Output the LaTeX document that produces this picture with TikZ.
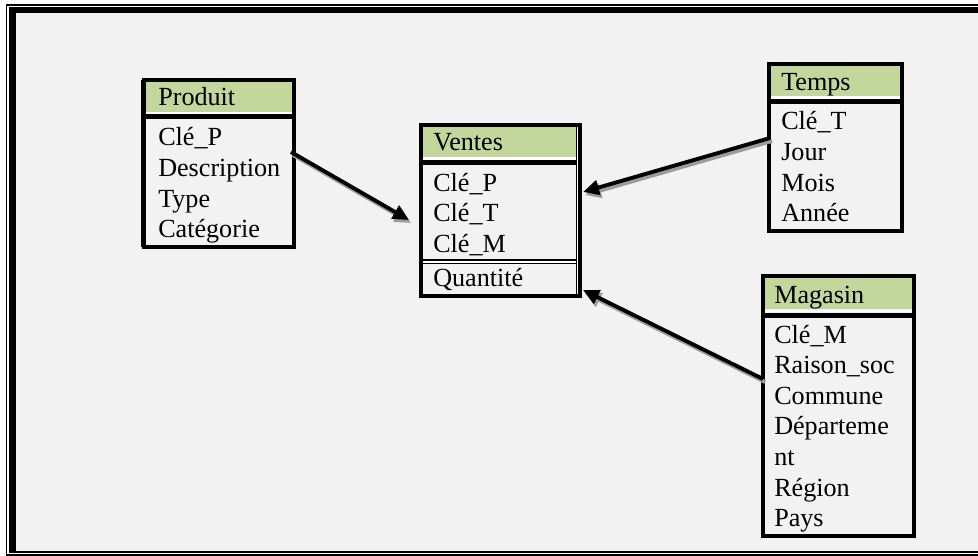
\documentclass[tikz,border=0pt]{standalone}
\usepackage{fontspec}
\setmainfont{Liberation Serif}
\usetikzlibrary{calc,arrows.meta}
\definecolor{paper}{HTML}{F2F2F2}
\definecolor{hdrgreen}{HTML}{C3D69B}
\definecolor{shadowgrey}{HTML}{9C9C9C}
\tikzset{
  tablebox/.style={anchor=north west, fill=paper, inner sep=0pt, outer sep=0pt},
  headbox/.style={anchor=north west, fill=hdrgreen, inner sep=0pt, outer sep=0pt},
  celltext/.style={anchor=base west, inner sep=0pt, font=\fontsize{19.6pt}{23pt}\selectfont},
  tableborder/.style={draw=black, line width=2.8pt},
  headrule/.style={draw=black, line width=3.75pt},
  gaprule/.style={draw=white, line width=1.9pt},
  link/.style={line width=2.9pt, -{Triangle[length=12pt,width=11pt]}},
  linkshadow/.style={link, draw=shadowgrey, fill=shadowgrey},
}

\begin{document}
\begin{tikzpicture}[x=0.75pt,y=-0.75pt]
\useasboundingbox (0,0) rectangle (978,556);
\clip (0,0) rectangle (978,556);

% page frame: thin outer rule, thick inner rule
\fill[white] (0,0) rectangle (978,556);
\fill[paper] (15.5,13) rectangle (978,550.5);
\draw[line width=1.1pt] (6.5,556) -- (6.5,5) -- (978,5);
\draw[line width=4.9pt] (12.5,551) -- (12.5,10) -- (978,10);
\draw[line width=1.5pt] (9,552) -- (978,552);
\draw[line width=1.1pt] (6,555) -- (978,555);

% ---- Produit ----
\node[tablebox, minimum width=112.5pt, minimum height=125.25pt] (prod) at (144,80) {};
\node[headbox, minimum width=112.5pt, minimum height=24pt] (prodH) at (prod.north west) {};
\draw[gaprule] ($(prod.north west)+(0,33.3)$) -- ($(prod.north east)+(0,33.3)$);
\draw[headrule] ($(prod.north west)+(0,37)$) -- ($(prod.north east)+(0,37)$);
\draw[white, line width=0.75pt] ($(prod.north west)+(-1,0)$) -- ($(prod.south west)+(-1,0)$);
\draw[line width=0.9pt] ($(prod.north west)+(-2,0)$) -- ($(prod.south west)+(-2,0)$);
\draw[tableborder] (prod.north west) rectangle (prod.south east);
\node[celltext] (prodT) at ($(prod.north west)+(14,26)$) {Produit};
\foreach \txt [count=\i from 0] in {Clé\_P,Description,Type,Catégorie}
  \node[celltext] (prod\i) at ($(prod.north west)+(14,66+30.6*\i)$) {\txt};

% ---- Ventes ----
\node[tablebox, minimum width=119.25pt, minimum height=128.25pt] (vent) at (421,125) {};
\node[headbox, minimum width=119.25pt, minimum height=24pt] (ventH) at (vent.north west) {};
\draw[gaprule] ($(vent.north west)+(0,33.5)$) -- ($(vent.north east)+(0,33.5)$);
\draw[headrule] ($(vent.north west)+(0,37.5)$) -- ($(vent.north east)+(0,37.5)$);
\draw[line width=1.5pt] ($(vent.north west)+(0,135)$) -- ($(vent.north east)+(0,135)$);
\draw[white, line width=1.5pt] ($(vent.north west)+(0,137)$) -- ($(vent.north east)+(0,137)$);
\draw[line width=0.75pt] ($(vent.north west)+(0,138.7)$) -- ($(vent.north east)+(0,138.7)$);
\draw[white, line width=0.75pt] ($(vent.north east)+(-2.5,0)$) -- ($(vent.south east)+(-2.5,0)$);
\draw[line width=0.75pt] ($(vent.north east)+(-3.5,0)$) -- ($(vent.south east)+(-3.5,0)$);
\draw[tableborder] (vent.north west) rectangle (vent.south east);
\node[celltext] (ventT) at ($(vent.north west)+(12,26)$) {Ventes};
\foreach \txt [count=\i from 0] in {Clé\_P,Clé\_T,Clé\_M}
  \node[celltext] (vent\i) at ($(vent.north west)+(12,66+30.6*\i)$) {\txt};
\node[celltext] (ventQ) at ($(vent.north west)+(12,161)$) {Quantité};

% ---- Temps ----
\node[tablebox, minimum width=99.75pt, minimum height=125.25pt] (temps) at (769,64) {};
\node[headbox, minimum width=99.75pt, minimum height=24pt] (tempsH) at (temps.north west) {};
\draw[gaprule] ($(temps.north west)+(0,33.5)$) -- ($(temps.north east)+(0,33.5)$);
\draw[headrule] ($(temps.north west)+(0,38)$) -- ($(temps.north east)+(0,38)$);
\draw[tableborder] (temps.north west) rectangle (temps.south east);
\node[celltext] (tempsT) at ($(temps.north west)+(12,27)$) {Temps};
\foreach \txt [count=\i from 0] in {Clé\_T,Jour,Mois,Année}
  \node[celltext] (temps\i) at ($(temps.north west)+(12,66+30.6*\i)$) {\txt};

% ---- Magasin ----
\node[tablebox, minimum width=113.25pt, minimum height=195pt] (mag) at (763,276) {};
\node[headbox, minimum width=113.25pt, minimum height=24.75pt] (magH) at (mag.north west) {};
\draw[gaprule] ($(mag.north west)+(0,35)$) -- ($(mag.north east)+(0,35)$);
\draw[headrule] ($(mag.north west)+(0,39.5)$) -- ($(mag.north east)+(0,39.5)$);
\draw[tableborder] (mag.north west) rectangle (mag.south east);
\node[celltext] (magT) at ($(mag.north west)+(11,27)$) {Magasin};
\foreach \txt [count=\i from 0] in {Clé\_M,Raison\_soc,Commune,Départeme,nt,Région,Pays}
  \node[celltext] (mag\i) at ($(mag.north west)+(11,67+30.6*\i)$) {\txt};

% ---- links, each with a soft drop shadow ----
\begin{scope}[transform canvas={shift={(2,3)}}]
  \draw[linkshadow] ($(prod.north east)+(-3,72)$) -- ($(vent.north west)+(-12,95)$);
  \draw[linkshadow] ($(temps.north west)+(1,74)$) -- ($(vent.north east)+(3,67)$);
  \draw[linkshadow] ($(mag.north west)+(0,103)$) -- ($(vent.north east)+(3,165)$);
\end{scope}
\draw[link] ($(prod.north east)+(-3,72)$) -- ($(vent.north west)+(-12,95)$);
\draw[link] ($(temps.north west)+(1,74)$) -- ($(vent.north east)+(3,67)$);
\draw[link] ($(mag.north west)+(0,103)$) -- ($(vent.north east)+(3,165)$);
\end{tikzpicture}
\end{document}
